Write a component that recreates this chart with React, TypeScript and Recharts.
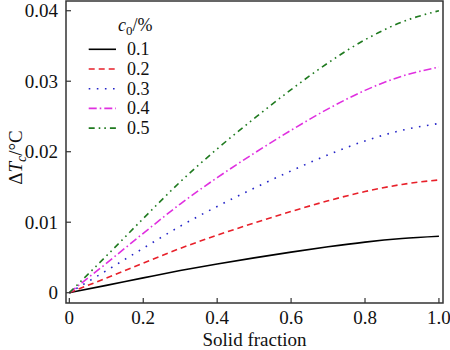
import { LineChart, Line, XAxis, YAxis, ReferenceArea, Legend } from 'recharts'

const fractions = [0, 0.1, 0.2, 0.3, 0.4, 0.5, 0.6, 0.7, 0.8, 0.9, 1.0]
const c01 = [0, 0.00104, 0.0021, 0.00314, 0.00408, 0.00494, 0.00576, 0.00652, 0.00718, 0.00768, 0.008]
const c02 = [0, 0.00208, 0.00421, 0.00629, 0.00816, 0.00989, 0.01152, 0.01304, 0.01435, 0.01536, 0.016]
const c03 = [0, 0.00312, 0.00631, 0.00943, 0.01224, 0.01483, 0.01728, 0.01956, 0.02153, 0.02304, 0.024]
const c04 = [0, 0.00416, 0.00842, 0.01258, 0.01632, 0.01978, 0.02304, 0.02608, 0.0287, 0.03072, 0.032]
const c05 = [0, 0.0052, 0.01052, 0.01572, 0.0204, 0.02472, 0.0288, 0.0326, 0.03588, 0.0384, 0.04]

const xTicks = [0, 0.2, 0.4, 0.6, 0.8, 1.0]
const yTicks = [0, 0.01, 0.02, 0.03, 0.04]

const series = [
  { key: 'c01', name: '0.1', color: '#000000', dash: undefined },
  { key: 'c02', name: '0.2', color: '#e8202a', dash: '6 4' },
  { key: 'c03', name: '0.3', color: '#2424c8', dash: '1.6 6.5' },
  { key: 'c04', name: '0.4', color: '#e030e0', dash: '8 3 1.6 3' },
  { key: 'c05', name: '0.5', color: '#1f7a1f', dash: '6 4 1.6 4 1.6 4' },
]

const data = fractions.map((x, i) => ({
  x,
  c01: c01[i],
  c02: c02[i],
  c03: c03[i],
  c04: c04[i],
  c05: c05[i],
}))

const FONT = '"Liberation Serif", "Times New Roman", Times, serif'
const serif = { fontFamily: FONT }
const X_MIN = -0.009
const X_MAX = 1.011
const Y_MIN = -0.00146
const Y_MAX = 0.04138

const fmtX = (v: number) => (v === 0 ? '0' : v.toFixed(1))
const fmtY = (v: number) => (v === 0 ? '0' : v.toFixed(2))

const XTick = (props: any) => {
  const { x, y, payload } = props
  return (
    <g>
      <line x1={x} x2={x} y1={y} y2={y - 5} stroke="#333" strokeWidth={1.2} />
      <text x={x} y={y + 21} textAnchor="middle" style={serif} fontSize={19} fill="#111">
        {fmtX(payload.value)}
      </text>
    </g>
  )
}

const YTick = (props: any) => {
  const { x, y, payload } = props
  return (
    <g>
      <line x1={x} x2={x + 5} y1={y} y2={y} stroke="#333" strokeWidth={1.2} />
      <text x={x - 8} y={y + 6.5} textAnchor="end" style={serif} fontSize={19} fill="#111">
        {fmtY(payload.value)}
      </text>
    </g>
  )
}

const renderLegend = () => (
  <svg width={120} height={140} style={{ display: 'block' }}>
    <text x={52} y={31} style={serif} fontSize={18} fill="#111">
      <tspan fontStyle="italic">c</tspan>
      <tspan fontSize={13} dy={4}>0</tspan>
      <tspan dy={-4}>/%</tspan>
    </text>
    {series.map((s, i) => {
      const cy = 49.3 + i * 19.7
      return (
        <g key={s.key}>
          <line x1={22.7} x2={50} y1={cy} y2={cy} stroke={s.color} strokeWidth={1.6} strokeDasharray={s.dash} />
          <text x={61} y={cy + 6} style={serif} fontSize={18} fill="#111">
            {s.name}
          </text>
        </g>
      )
    })}
  </svg>
)

export default function App() {
  return (
    <div style={{ width: 450, height: 350, background: '#fff', position: 'absolute', left: 0, top: 0, fontFamily: FONT }}>
      <LineChart width={450} height={350} data={data} margin={{ top: 1, right: 7, left: 0, bottom: 0 }}>
        <XAxis
          dataKey="x"
          type="number"
          domain={[X_MIN, X_MAX]}
          ticks={xTicks}
          allowDataOverflow
          height={47}
          axisLine={false}
          tickLine={false}
          tickSize={0}
          tickMargin={0}
          tick={<XTick />}
          interval={0}
          label={{
            content: (p: any) => {
              const vb = p.viewBox
              return (
                <text x={vb.x + vb.width / 2} y={vb.y + 43} textAnchor="middle" style={serif} fontSize={19} fill="#111">
                  Solid fraction
                </text>
              )
            },
          }}
        />
        <YAxis
          type="number"
          domain={[Y_MIN, Y_MAX]}
          ticks={yTicks}
          allowDataOverflow
          width={66}
          axisLine={false}
          tickLine={false}
          tickSize={0}
          tickMargin={0}
          tick={<YTick />}
          interval={0}
          label={{
            content: () => (
              <text
                x={21.8}
                y={157.5}
                transform="rotate(-90, 21.8, 157.5)"
                textAnchor="middle"
                style={serif}
                fontSize={19}
                fill="#111"
              >
                <tspan>Δ</tspan>
                <tspan fontStyle="italic">T</tspan>
                <tspan fontStyle="italic" fontSize={14} dy={4}>c</tspan>
                <tspan dy={-4}>/°C</tspan>
              </text>
            ),
          }}
        />
        <ReferenceArea
          x1={X_MIN}
          x2={X_MAX}
          y1={Y_MIN}
          y2={Y_MAX}
          fill="none"
          stroke="#333"
          strokeWidth={1.5}
          ifOverflow="visible"
        />
        {series.map((s) => (
          <Line
            key={s.key}
            dataKey={s.key}
            name={s.name}
            type="monotone"
            stroke={s.color}
            strokeWidth={1.6}
            strokeDasharray={s.dash}
            dot={false}
            activeDot={false}
            isAnimationActive={false}
          />
        ))}
        <Legend
          layout="vertical"
          align="center"
          verticalAlign="middle"
          content={renderLegend}
          wrapperStyle={{ left: 66, top: 0, width: 120, height: 140 }}
        />
      </LineChart>
    </div>
  )
}
